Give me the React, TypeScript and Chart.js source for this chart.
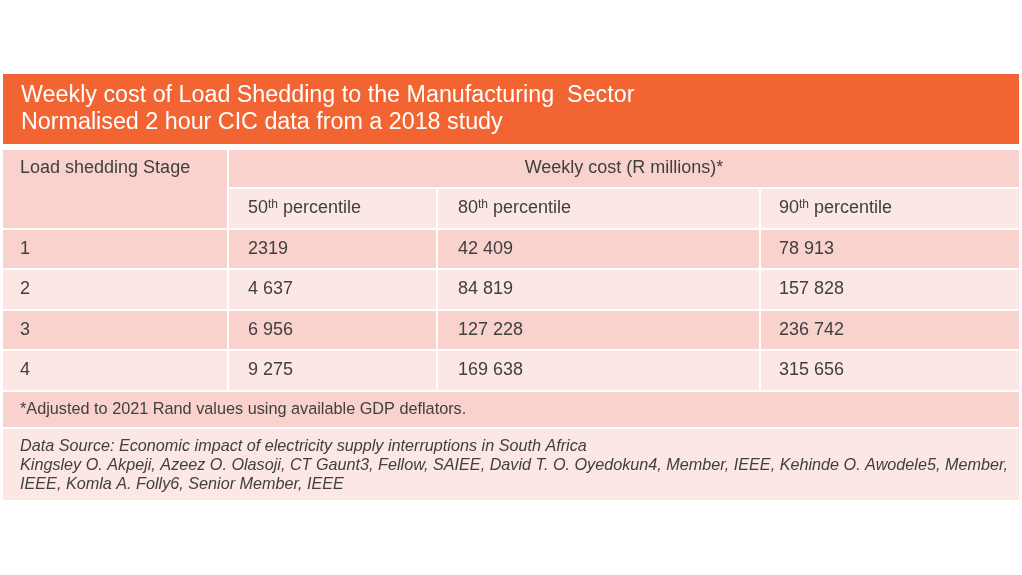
import React, { useEffect, useRef } from "react";
import { Chart, registerables } from "chart.js";

Chart.register(...registerables);

// ---- Content ----
const titleLines = [
  "Weekly cost of Load Shedding to the Manufacturing  Sector",
  "Normalised 2 hour CIC data from a 2018 study",
];
const stageHeader = "Load shedding Stage";
const costHeader = "Weekly cost (R millions)*";
const percentiles = ["50", "80", "90"];
const percentileSuffix = "th";
const percentileWord = " percentile";
const stages = ["1", "2", "3", "4"];
const p50 = ["2319", "4 637", "6 956", "9 275"];
const p80 = ["42 409", "84 819", "127 228", "169 638"];
const p90 = ["78 913", "157 828", "236 742", "315 656"];
const footnote = "*Adjusted to 2021 Rand values using available GDP deflators.";
const sourceLines = [
  "Data Source: Economic impact of electricity supply interruptions in South Africa",
  "Kingsley O. Akpeji, Azeez O. Olasoji, CT Gaunt3, Fellow, SAIEE, David T. O. Oyedokun4, Member, IEEE, Kehinde O. Awodele5, Member,",
  "IEEE, Komla A. Folly6, Senior Member, IEEE",
];

// ---- Layout (table coordinates) ----
const TABLE_W = 1016;
const TABLE_H = 426;
const COLS: [number, number][] = [
  [0, 224],
  [226, 433],
  [435, 756],
  [758, 1016],
];
const TEXT_X = [17, 245, 455, 776];
const ROW_TITLE: [number, number] = [0, 70];
const ROW_H1: [number, number] = [76, 113];
const ROW_H2: [number, number] = [115, 154];
const ROW_DATA: [number, number][] = [
  [156, 194],
  [196, 235],
  [237, 275],
  [277, 316],
];
const ROW_FOOT: [number, number] = [318, 353];
const ROW_SRC: [number, number] = [355, 426];

const ORANGE = "#F26532";
const DARK = "#F9D1CD";
const LIGHT = "#FCE7E4";
const TEXT = "#404040";
const FONT = '"Liberation Sans", Arial, Helvetica, sans-serif';

const tablePlugin = {
  id: "tableCells",
  afterDraw(chart: any) {
    const ctx: CanvasRenderingContext2D = chart.ctx;
    const xs = chart.scales.x;
    const ys = chart.scales.y;
    const px = (v: number) => xs.getPixelForValue(v);
    const py = (v: number) => ys.getPixelForValue(v);
    const rect = (x0: number, x1: number, y0: number, y1: number, color: string) => {
      ctx.fillStyle = color;
      const a = px(x0), b = px(x1), c = py(y0), d = py(y1);
      ctx.fillRect(a, c, b - a, d - c);
    };
    const mid = (r: [number, number]) => py((r[0] + r[1]) / 2);

    ctx.save();
    // title band
    rect(0, TABLE_W, ROW_TITLE[0], ROW_TITLE[1], ORANGE);
    ctx.fillStyle = "#FFFFFF";
    ctx.font = `23.3px ${FONT}`;
    ctx.textBaseline = "middle";
    ctx.textAlign = "left";
    ctx.fillText(titleLines[0], px(18), py(22));
    ctx.fillText(titleLines[1], px(18), py(49));

    // header row cells
    rect(COLS[0][0], COLS[0][1], ROW_H1[0], ROW_H2[1], DARK);
    rect(COLS[1][0], COLS[3][1], ROW_H1[0], ROW_H1[1], DARK);
    for (let c = 1; c < 4; c++) rect(COLS[c][0], COLS[c][1], ROW_H2[0], ROW_H2[1], LIGHT);

    // data rows
    ROW_DATA.forEach((r, i) => {
      const col = i % 2 === 0 ? DARK : LIGHT;
      for (let c = 0; c < 4; c++) rect(COLS[c][0], COLS[c][1], r[0], r[1], col);
    });
    rect(0, TABLE_W, ROW_FOOT[0], ROW_FOOT[1], DARK);
    rect(0, TABLE_W, ROW_SRC[0], ROW_SRC[1], LIGHT);

    // header texts
    ctx.fillStyle = TEXT;
    ctx.font = `18px ${FONT}`;
    ctx.fillText(stageHeader, px(TEXT_X[0]), mid(ROW_H1));
    ctx.textAlign = "center";
    ctx.fillText(costHeader, (px(COLS[1][0]) + px(COLS[3][1])) / 2, mid(ROW_H1));
    ctx.textAlign = "left";
    percentiles.forEach((p, i) => {
      let x = px(TEXT_X[i + 1]);
      const y = mid(ROW_H2);
      ctx.font = `18px ${FONT}`;
      ctx.fillText(p, x, y);
      x += ctx.measureText(p).width;
      ctx.font = `12px ${FONT}`;
      ctx.fillText(percentileSuffix, x, y - 4);
      x += ctx.measureText(percentileSuffix).width;
      ctx.font = `18px ${FONT}`;
      ctx.fillText(percentileWord, x, y);
    });

    // data texts
    const cols = [stages, p50, p80, p90];
    ROW_DATA.forEach((r, i) => {
      cols.forEach((arr, c) => {
        ctx.fillText(arr[i], px(TEXT_X[c]), mid(r));
      });
    });

    ctx.font = `16.25px ${FONT}`;
    ctx.fillText(footnote, px(TEXT_X[0]), mid(ROW_FOOT));
    ctx.font = `italic 16.2px ${FONT}`;
    sourceLines.forEach((s, i) => {
      ctx.fillText(s, px(TEXT_X[0]), py(ROW_SRC[0] + 17 + i * 19));
    });
    ctx.restore();
  },
};

export default function App() {
  const ref = useRef<HTMLCanvasElement | null>(null);
  useEffect(() => {
    if (!ref.current) return;
    const chart = new Chart(ref.current, {
      type: "scatter",
      data: { datasets: [] },
      options: {
        animation: false,
        responsive: false,
        maintainAspectRatio: false,
        devicePixelRatio: 1,
        layout: { padding: { left: 3, right: 3, top: 74, bottom: 75 } },
        scales: {
          x: { type: "linear", min: 0, max: TABLE_W, display: false },
          y: { type: "linear", min: 0, max: TABLE_H, reverse: true, display: false },
        },
        plugins: { legend: { display: false }, tooltip: { enabled: false } },
      },
      plugins: [tablePlugin],
    } as any);
    return () => chart.destroy();
  }, []);
  return (
    <div style={{ position: "fixed", left: 0, top: 0, width: 1022, height: 575, background: "#FFFFFF" }}>
      <canvas ref={ref} width={1022} height={575} style={{ display: "block", width: 1022, height: 575 }} />
    </div>
  );
}
